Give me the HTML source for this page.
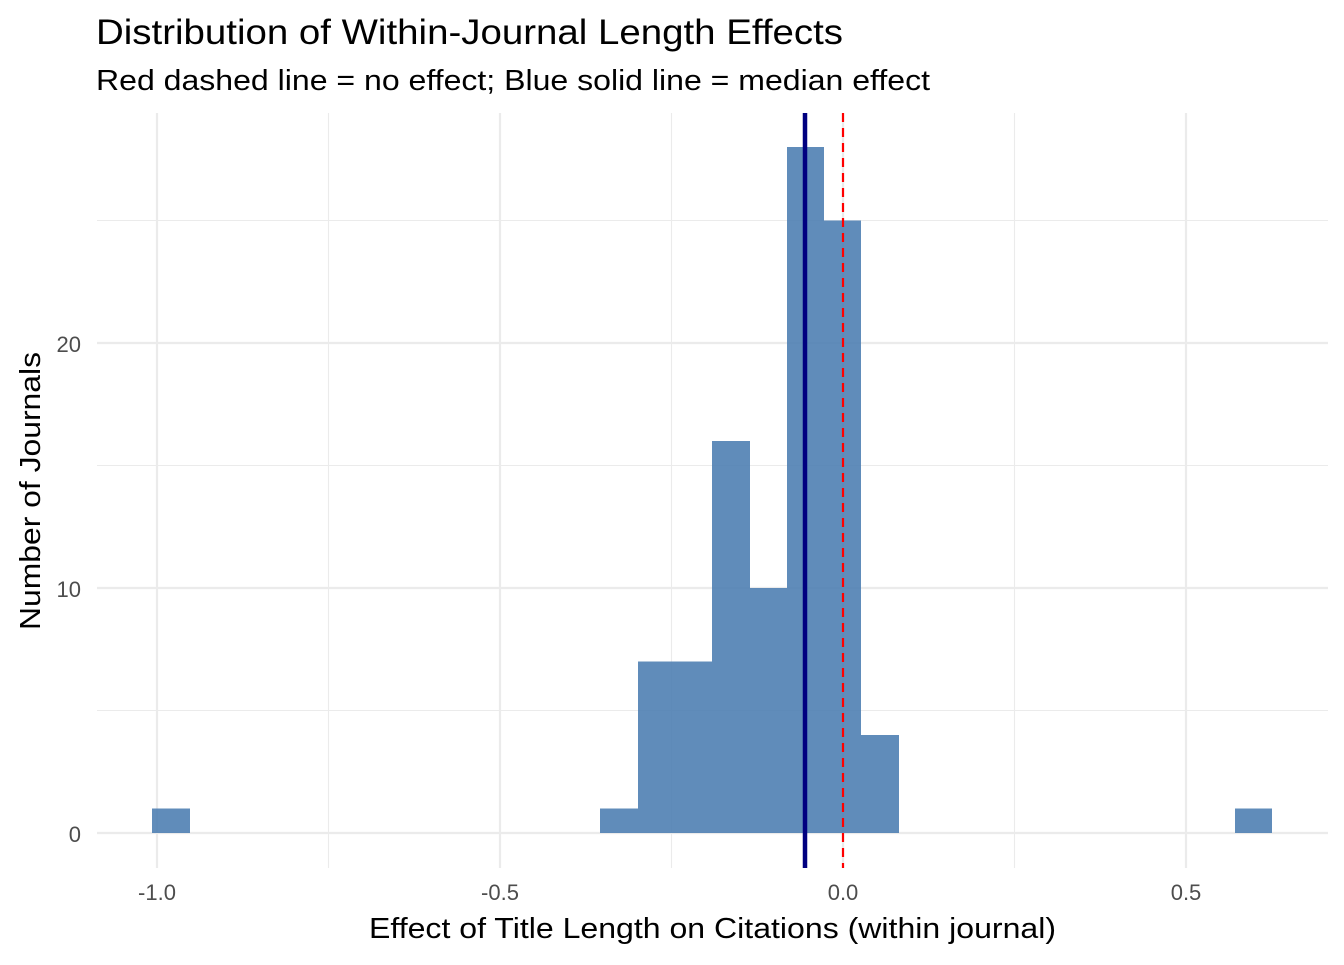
<!DOCTYPE html>
<html><head><meta charset="utf-8"><style>
body{margin:0;background:#fff}
svg text{font-family:"Liberation Sans",Arial,sans-serif}
</style></head><body>
<svg width="1344" height="960" xmlns="http://www.w3.org/2000/svg">
<rect width="1344" height="960" fill="#fff"/>
<g stroke="#ebebeb" stroke-width="1.1">
<line x1="97" x2="1328" y1="710.5" y2="710.5"/>
<line x1="97" x2="1328" y1="465.5" y2="465.5"/>
<line x1="97" x2="1328" y1="220.5" y2="220.5"/>
<line x1="328.5" x2="328.5" y1="113" y2="868"/>
<line x1="671.5" x2="671.5" y1="113" y2="868"/>
<line x1="1014.5" x2="1014.5" y1="113" y2="868"/>
</g>
<g stroke="#ebebeb" stroke-width="2.2">
<line x1="97" x2="1328" y1="833" y2="833"/>
<line x1="97" x2="1328" y1="588" y2="588"/>
<line x1="97" x2="1328" y1="343" y2="343"/>
<line x1="157" x2="157" y1="113" y2="868"/>
<line x1="500" x2="500" y1="113" y2="868"/>
<line x1="843" x2="843" y1="113" y2="868"/>
<line x1="1186" x2="1186" y1="113" y2="868"/>
</g>
<g fill="#4f7fb3" fill-opacity="0.9">
<rect x="152" y="808.5" width="38" height="24.5"/>
<rect x="600" y="808.5" width="38" height="24.5"/>
<rect x="638" y="661.5" width="74" height="171.5"/>
<rect x="712" y="441" width="38" height="392"/>
<rect x="750" y="588" width="37" height="245"/>
<rect x="787" y="147" width="37" height="686"/>
<rect x="824" y="220.5" width="37" height="612.5"/>
<rect x="861" y="735" width="38" height="98"/>
<rect x="1235" y="808.5" width="37" height="24.5"/>
</g>
<line x1="805" x2="805" y1="113" y2="868" stroke="#000080" stroke-width="4.5"/>
<line x1="843" x2="843" y1="113" y2="868" stroke="#ff0000" stroke-width="2.2" stroke-dasharray="9,6"/>
<g fill="#4d4d4d" font-size="22" text-anchor="end">
<text x="81" y="842">0</text>
<text x="81" y="597">10</text>
<text x="81" y="352">20</text>
</g>
<g fill="#4d4d4d" font-size="22" text-anchor="middle">
<text x="157" y="900">-1.0</text>
<text x="500" y="900">-0.5</text>
<text x="843" y="900">0.0</text>
<text x="1186" y="900">0.5</text>
</g>
<text x="369" y="938" font-size="29" textLength="687" lengthAdjust="spacingAndGlyphs" fill="#000">Effect of Title Length on Citations (within journal)</text>
<text transform="translate(40,630) rotate(-90)" font-size="29" textLength="278" lengthAdjust="spacingAndGlyphs" fill="#000">Number of Journals</text>
<text x="96" y="44" font-size="35" textLength="747" lengthAdjust="spacingAndGlyphs" fill="#000">Distribution of Within-Journal Length Effects</text>
<text x="96" y="90" font-size="29" textLength="834" lengthAdjust="spacingAndGlyphs" fill="#000">Red dashed line = no effect; Blue solid line = median effect</text>
</svg>
</body></html>
